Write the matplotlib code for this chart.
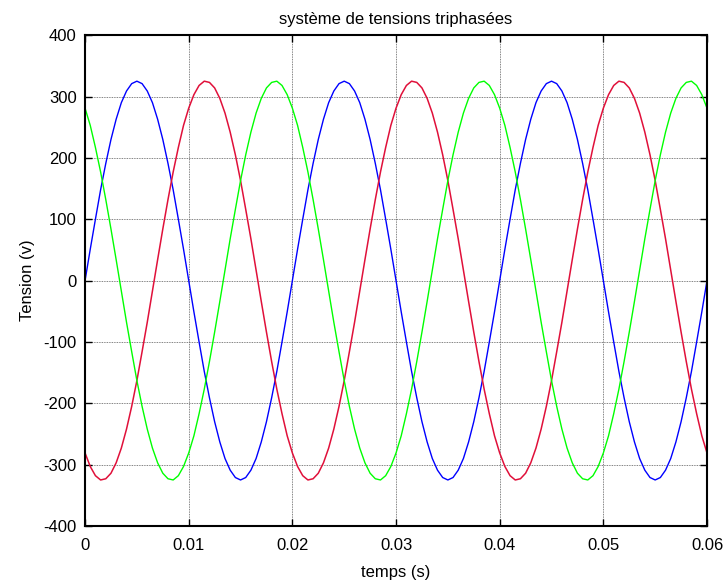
import numpy as np
import matplotlib
matplotlib.use('agg')
import matplotlib.pyplot as plt  # noqa

# tensions, one sample every 0.5 ms
va = [0, 51, 100, 148, 191, 230, 263, 290, 309, 321, 325, 321, 309, 290, 263, 230, 191, 148, 100, 51,
      0, -51, -100, -148, -191, -230, -263, -290, -309, -321, -325, -321, -309, -290, -263, -230, -191, -148, -100, -51,
      0, 51, 100, 148, 191, 230, 263, 290, 309, 321, 325, 321, 309, 290, 263, 230, 191, 148, 100, 51,
      0, -51, -100, -148, -191, -230, -263, -290, -309, -321, -325, -321, -309, -290, -263, -230, -191, -148, -100, -51,
      0, 51, 100, 148, 191, 230, 263, 290, 309, 321, 325, 321, 309, 290, 263, 230, 191, 148, 100, 51,
      0, -51, -100, -148, -191, -230, -263, -290, -309, -321, -325, -321, -309, -290, -263, -230, -191, -148, -100, -51,
      0]

vb = [-281, -303, -318, -325, -323, -314, -297, -273, -242, -205, -163, -116, -68, -17, 34, 84, 132, 177, 217, 253,
      281, 303, 318, 325, 323, 314, 297, 273, 242, 205, 163, 116, 68, 17, -34, -84, -132, -177, -217, -253,
      -281, -303, -318, -325, -323, -314, -297, -273, -242, -205, -163, -116, -68, -17, 34, 84, 132, 177, 217, 253,
      281, 303, 318, 325, 323, 314, 297, 273, 242, 205, 163, 116, 68, 17, -34, -84, -132, -177, -217, -253,
      -281, -303, -318, -325, -323, -314, -297, -273, -242, -205, -163, -116, -68, -17, 34, 84, 132, 177, 217, 253,
      281, 303, 318, 325, 323, 314, 297, 273, 242, 205, 163, 116, 68, 17, -34, -84, -132, -177, -217, -253,
      -281]

vc = [281, 253, 217, 177, 132, 84, 34, -17, -68, -116, -163, -205, -242, -273, -297, -314, -323, -325, -318, -303,
      -281, -253, -217, -177, -132, -84, -34, 17, 68, 116, 163, 205, 242, 273, 297, 314, 323, 325, 318, 303,
      281, 253, 217, 177, 132, 84, 34, -17, -68, -116, -163, -205, -242, -273, -297, -314, -323, -325, -318, -303,
      -281, -253, -217, -177, -132, -84, -34, 17, 68, 116, 163, 205, 242, 273, 297, 314, 323, 325, 318, 303,
      281, 253, 217, 177, 132, 84, 34, -17, -68, -116, -163, -205, -242, -273, -297, -314, -323, -325, -318, -303,
      -281, -253, -217, -177, -132, -84, -34, 17, 68, 116, 163, 205, 242, 273, 297, 314, 323, 325, 318, 303,
      281]

t = np.linspace(0, 0.06, len(va))

xticks = [0, 0.01, 0.02, 0.03, 0.04, 0.05, 0.06]
xticklabels = ['0', '0.01', '0.02', '0.03', '0.04', '0.05', '0.06']
yticks = [-400, -300, -200, -100, 0, 100, 200, 300, 400]

plt.rcParams['font.family'] = ['Liberation Sans', 'DejaVu Sans']
plt.rcParams['font.size'] = 12
plt.rcParams['axes.unicode_minus'] = False

fig = plt.figure(figsize=(7.27, 5.86), dpi=100)
ax = fig.add_axes([0.117, 0.1024, 0.8555, 0.8376])

ax.plot(t, va, color='#0000ff', lw=1)
ax.plot(t, vb, color='#e0103a', lw=1.1)
ax.plot(t, vc, color='#00ff00', lw=1)

ax.set_xlim(0, 0.06)
ax.set_ylim(-400, 400)
ax.set_xticks(xticks)
ax.set_xticklabels(xticklabels)
ax.set_yticks(yticks)
ax.tick_params(direction='in', length=5, width=1, top=True, right=True,
               labelsize=12)
ax.tick_params(axis='x', pad=9)
ax.tick_params(axis='y', pad=6)
ax.grid(True, color='0.35', linestyle=(0, (1, 1)), linewidth=0.6)
for s in ax.spines.values():
    s.set_linewidth(1.5)

ax.set_title('système de tensions triphasées', fontsize=12, pad=8)
ax.set_xlabel('temps (s)', fontsize=12, labelpad=8)
ax.set_ylabel('Tension (v)', fontsize=12, labelpad=6)

fig.savefig('out.png', dpi=100)
